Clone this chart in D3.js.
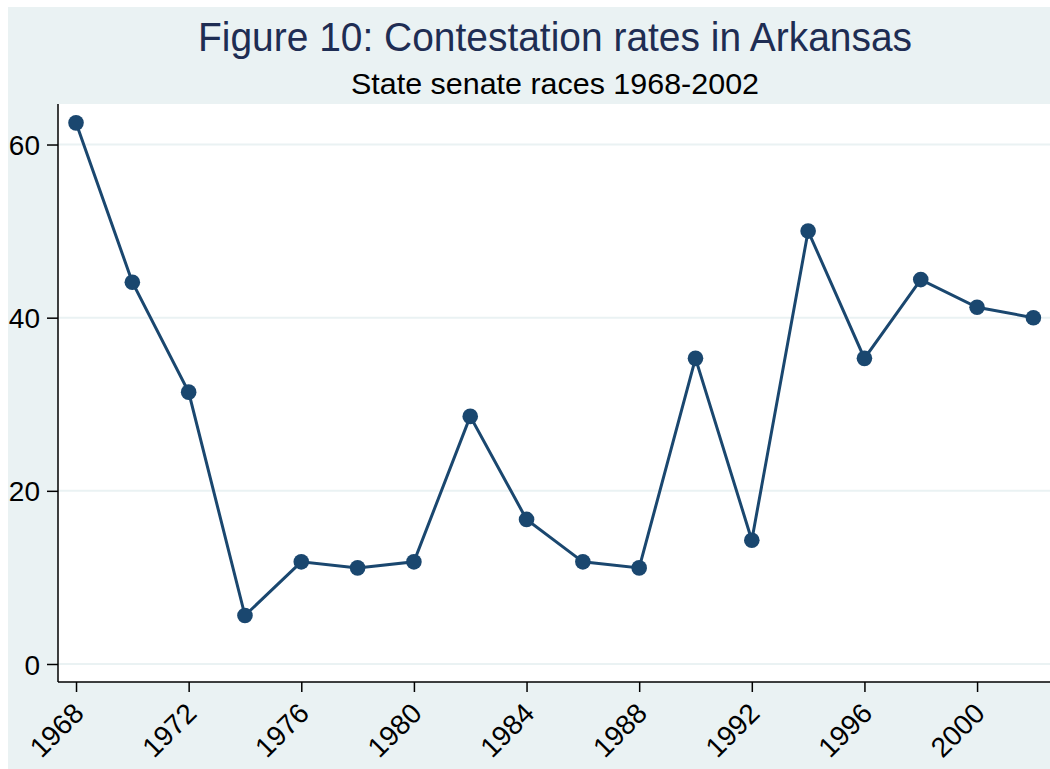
<!DOCTYPE html>
<html lang="en">
<head>
<meta charset="utf-8">
<title>Contestation rates in Arkansas</title>
<script src="https://d3js.org/d3.v7.min.js"></script>
<style>
  body { margin: 0; background: #fff; }
  text { font-family: "Liberation Sans", Arial, sans-serif; }
</style>
</head>
<body>
<svg width="1050" height="769"></svg>
<script>
const years = [1968, 1970, 1972, 1974, 1976, 1978, 1980, 1982, 1984, 1986, 1988, 1990, 1992, 1994, 1996, 1998, 2000, 2002];
const rates = [62.5, 44.1, 31.4, 5.6, 11.8, 11.1, 11.8, 28.6, 16.7, 11.8, 11.1, 35.3, 14.3, 50, 35.3, 44.4, 41.2, 40];
const yTicks = [0, 20, 40, 60];
const xTicks = [1968, 1972, 1976, 1980, 1984, 1988, 1992, 1996, 2000];

const svg = d3.select("svg");
const width = 1050, height = 769;
const plot = { left: 58, right: 1050, top: 104, bottom: 682 };
const navy = "#1a476f";

// outer graph region
svg.append("rect")
    .attr("x", 8).attr("y", 7)
    .attr("width", width - 8).attr("height", height - 7)
    .attr("fill", "#eaf2f3");

svg.append("rect")
    .attr("x", plot.left).attr("y", plot.top)
    .attr("width", plot.right - plot.left).attr("height", plot.bottom - plot.top)
    .attr("fill", "#fff");

const x = d3.scaleLinear().domain([1967.36, 2002.59]).range([plot.left, plot.right]);
const y = d3.scaleLinear().domain([-2.08, 64.68]).range([plot.bottom, plot.top]);

// gridlines
svg.append("g")
    .selectAll("line")
    .data(yTicks)
    .join("line")
    .attr("x1", plot.left).attr("x2", plot.right)
    .attr("y1", d => y(d)).attr("y2", d => y(d))
    .attr("stroke", "#eaf2f3")
    .attr("stroke-width", 2);

// y axis
const yAxis = svg.append("g")
    .attr("transform", `translate(${plot.left},0)`)
    .call(d3.axisLeft(y).tickValues(yTicks).tickSize(11).tickPadding(7).tickSizeOuter(0));
yAxis.select(".domain").attr("stroke", "#000").attr("stroke-width", 1.5)
    .attr("d", `M0,${plot.top}V${plot.bottom}`);
yAxis.selectAll(".tick line").attr("stroke", "#000").attr("stroke-width", 1.5);
yAxis.selectAll(".tick text")
    .attr("font-size", 28)
    .attr("fill", "#000")
    .attr("dy", "0.36em");

// x axis
const xAxis = svg.append("g")
    .attr("transform", `translate(0,${plot.bottom})`)
    .call(d3.axisBottom(x).tickValues(xTicks).tickFormat(d3.format("d")).tickSize(10).tickSizeOuter(0));
xAxis.select(".domain").attr("stroke", "#000").attr("stroke-width", 1.5)
    .attr("d", `M${plot.left},0H${plot.right}`);
xAxis.selectAll(".tick line").attr("stroke", "#000").attr("stroke-width", 1.5);
xAxis.selectAll(".tick text")
    .attr("font-size", 28)
    .attr("fill", "#000")
    .attr("text-anchor", "end")
    .attr("y", 0).attr("dy", 0)
    .attr("transform", "translate(9,33) rotate(-45)");

// series
const pts = years.map((yr, i) => ({ year: yr, value: rates[i] }));

svg.append("path")
    .datum(pts)
    .attr("fill", "none")
    .attr("stroke", navy)
    .attr("stroke-width", 3)
    .attr("d", d3.line().x(d => x(d.year)).y(d => y(d.value)));

svg.append("g")
    .selectAll("circle")
    .data(pts)
    .join("circle")
    .attr("cx", d => x(d.year))
    .attr("cy", d => y(d.value))
    .attr("r", 7.8)
    .attr("fill", navy);

// titles
svg.append("text")
    .attr("x", 555).attr("y", 51)
    .attr("text-anchor", "middle")
    .attr("font-size", 40)
    .attr("textLength", 714)
    .attr("lengthAdjust", "spacingAndGlyphs")
    .attr("fill", "#1e2d53")
    .text("Figure 10: Contestation rates in Arkansas");

svg.append("text")
    .attr("x", 555).attr("y", 94)
    .attr("text-anchor", "middle")
    .attr("font-size", 30)
    .attr("textLength", 408)
    .attr("lengthAdjust", "spacingAndGlyphs")
    .attr("fill", "#000")
    .text("State senate races 1968-2002");
</script>
</body>
</html>
